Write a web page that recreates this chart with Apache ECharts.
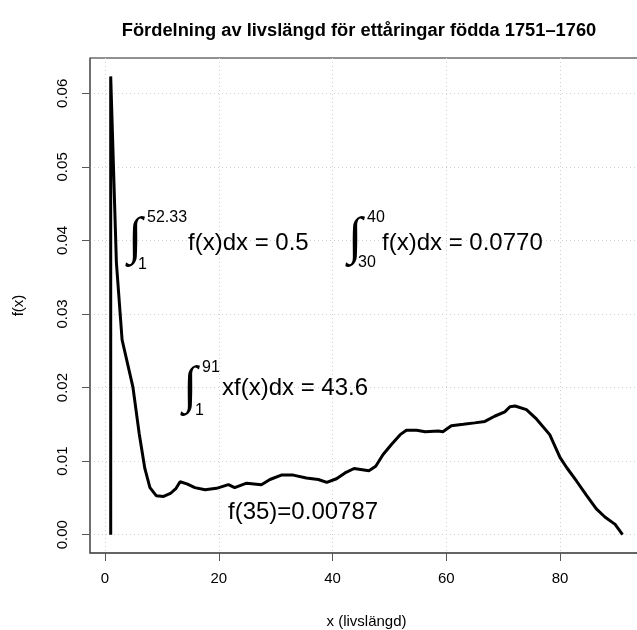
<!DOCTYPE html>
<html>
<head>
<meta charset="utf-8">
<script src="https://cdn.jsdelivr.net/npm/echarts@6/dist/echarts.min.js"></script>
<style>
  html, body { margin: 0; padding: 0; background: #fff; }
  #main { width: 637px; height: 630px; }
</style>
</head>
<body>
<div id="main"></div>
<script>
// ålder (år) och skattad täthet f(x)
var ages = [1, 1, 2, 3, 4.9, 6, 7, 7.9, 9, 10.3, 11.5, 12.5, 13.2, 14.4, 15.8, 17.6, 19.6, 21.7, 22.8, 24.9,
            27.5, 29, 31, 33.1, 35.4, 37.5, 39, 40.7, 42.2, 43.8, 46.4, 47.6, 48.9, 50.4, 51.9, 53, 54.8,
            56.3, 58.6, 59.4, 60.9, 63, 65, 66.8, 68.5, 70.3, 71.2, 72.1, 74.1, 75.9, 78.2, 80, 81.2, 82.9,
            84.7, 86.4, 87.9, 89.7, 91];
var density = [0, 0.0623, 0.037, 0.0265, 0.0201, 0.0138, 0.0090, 0.0064, 0.0053, 0.0052, 0.0056, 0.0063, 0.0072,
               0.0069, 0.0064, 0.0061, 0.0063, 0.0068, 0.0064, 0.0070,
               0.0068, 0.0075, 0.0081, 0.0081, 0.0077, 0.0075, 0.0071, 0.0076, 0.0084, 0.0090, 0.0087, 0.0093,
               0.0109, 0.0123, 0.0136, 0.0142, 0.0142, 0.0140, 0.0141, 0.0140, 0.0148, 0.0150, 0.0152, 0.0154,
               0.0161, 0.0167, 0.0174, 0.0175, 0.0170, 0.0157, 0.0136, 0.0105, 0.0091, 0.0073, 0.0053, 0.0035,
               0.0024, 0.0014, 0.0];
var xTicks = [0, 20, 40, 60, 80];
var yTicks = [0, 0.01, 0.02, 0.03, 0.04, 0.05, 0.06];

var titleText = 'Fördelning av livslängd för ettåringar födda 1751\u20131760';

var dom = document.getElementById('main');
var myChart = echarts.init(dom, null, { renderer: 'canvas' });

var fnt = 'Liberation Sans, Arial, Helvetica, sans-serif';
var intFnt = 'Liberation Serif';

function txt(text, x, y, size, align, family) {
    return {
        type: 'text', x: x, y: y, z: 100,
        style: {
            text: text, fill: '#000', fontSize: size, fontFamily: family || fnt,
            align: align || 'left', verticalAlign: 'middle'
        }
    };
}

var option = {
    backgroundColor: '#fff',
    animation: false,
    title: {
        text: titleText,
        left: 354, top: 17, textAlign: 'center',
        textStyle: { fontSize: 18.3, fontWeight: 'bold', fontFamily: fnt, color: '#000' }
    },
    grid: {
        left: 90, top: 58, width: 553, bottom: 77,
        outerBoundsMode: 'none',
        show: true, borderColor: '#222', borderWidth: 1
    },
    xAxis: {
        type: 'value',
        min: -2.64, max: 94.6,
        name: 'x (livslängd)', nameLocation: 'middle', nameGap: 61,
        nameTextStyle: { fontSize: 15, fontFamily: fnt, color: '#000' },
        axisLine: { show: true, onZero: false, lineStyle: { color: '#555', width: 1.5 } },
        axisTick: { show: true, inside: false, length: 8, customValues: xTicks, lineStyle: { color: '#555' } },
        axisLabel: { customValues: xTicks, fontSize: 15, fontFamily: fnt, color: '#000', margin: 18 },
        splitLine: { show: true, lineStyle: { color: '#d0d0d0', type: [1, 3], width: 1 } }
    },
    yAxis: {
        type: 'value',
        min: -0.00249, max: 0.0648,
        name: 'f(x)', nameLocation: 'middle', nameRotate: 90, nameGap: 64,
        nameTextStyle: { fontSize: 15, fontFamily: fnt, color: '#000' },
        axisLine: { show: true, onZero: false, lineStyle: { color: '#666', width: 1.5 } },
        axisTick: { show: true, inside: false, length: 8, customValues: yTicks, lineStyle: { color: '#555' } },
        axisLabel: {
            customValues: yTicks, rotate: 90, fontSize: 15, fontFamily: fnt, color: '#000', margin: 20,
            formatter: function (v) { return v.toFixed(2); }
        },
        splitLine: { show: true, lineStyle: { color: '#d0d0d0', type: [1, 3], width: 1 } }
    },
    series: [
        {
            name: 'f(x)',
            type: 'line',
            data: ages.map(function (a, i) { return [a, density[i]]; }),
            showSymbol: false,
            smooth: false,
            lineStyle: { color: '#000', width: 3 },
            z: 5
        }
    ],
    graphic: [
        // integral 1
        txt('\u222B', 135, 239, 52, 'center', intFnt),
        txt('52.33', 147, 218, 16),
        txt('1', 138, 265, 16),
        txt('f(x)dx = 0.5', 188, 243, 24),
        // integral 2
        txt('\u222B', 355, 239, 52, 'center', intFnt),
        txt('40', 367, 218, 16),
        txt('30', 358, 263, 16),
        txt('f(x)dx = 0.0770', 382, 243, 24),
        // integral 3
        txt('\u222B', 190, 388, 52, 'center', intFnt),
        txt('91', 202, 368, 16),
        txt('1', 195, 411, 16),
        txt('xf(x)dx = 43.6', 222, 388, 24),
        // f(35)
        txt('f(35)=0.00787', 228, 512, 24)
    ]
};

if (option && typeof option === 'object') {
    myChart.setOption(option, true);
}
</script>
</body>
</html>
